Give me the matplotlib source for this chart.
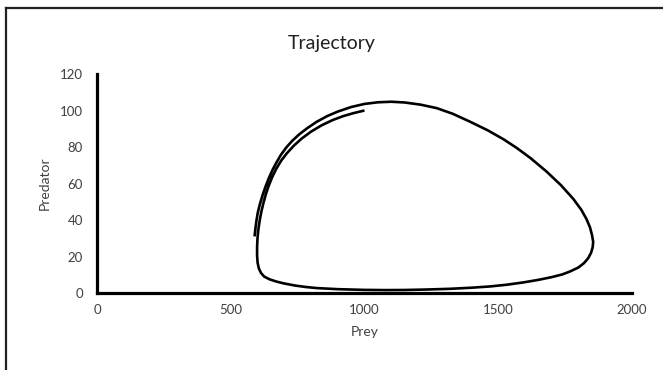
import matplotlib.pyplot as plt
from matplotlib.lines import Line2D

# trajectory (prey, predator), start at (1000, 100)
prey = [1000, 960, 920, 880, 840, 800, 765, 735, 710, 688, 670, 655, 642,
        631, 622, 614, 608, 603, 600, 598.5, 598.5, 600.5, 605, 613, 625,
        645, 670, 697, 740, 780, 821, 900, 1000, 1080, 1150, 1230, 1320,
        1400, 1470, 1530, 1594, 1650, 1700, 1740, 1770, 1800, 1820, 1836,
        1847, 1853, 1855, 1851, 1843, 1830, 1811, 1781, 1735, 1681, 1620,
        1569, 1519, 1460, 1394, 1330, 1270, 1210, 1150, 1100, 1050, 1000,
        950, 900, 860, 820, 785, 755, 730, 708, 688, 672, 656, 642, 630,
        619, 609, 601, 596, 592, 589]
predator = [100, 98.6, 96.9, 94.7, 91.9, 88.4, 84.6, 80.6, 76.6, 72.4, 68,
            63.5, 58.8, 54, 49.2, 44.3, 39.5, 34.5, 30, 25, 20.5, 16.5, 13.5,
            11, 9, 7.5, 6.3, 5.3, 4.1, 3.3, 2.7, 2.1, 1.7, 1.6, 1.65, 1.9,
            2.3, 2.9, 3.6, 4.5, 5.8, 7.2, 8.7, 10.2, 11.9, 14, 16.3, 19,
            22, 25, 28, 31.5, 36, 40.5, 45.5, 51.5, 59, 66.5, 74,
            79.5, 84.3, 89.2, 93.9, 98.2, 101.3, 103.2, 104.4, 104.8, 104.5,
            103.6, 101.9, 99.4, 96.9, 93.7, 90.2, 86.8, 83.4, 79.8, 75.8,
            71.8, 67.4, 62.8, 58.3, 53.6, 48.7, 44, 39.5, 35, 31]

xticks = [0, 500, 1000, 1500, 2000]
yticks = [0, 20, 40, 60, 80, 100, 120]

plt.rcParams['font.family'] = ['Lato', 'DejaVu Sans']

fig = plt.figure(figsize=(6.63, 3.70), dpi=100)
ax = fig.add_axes([0.1463, 0.2081, 0.8069, 0.5919])

ax.plot(prey, predator, color='black', linewidth=1.9,
        solid_capstyle='butt', solid_joinstyle='round')

ax.set_xlim(0, 2000)
ax.set_ylim(0, 120)
ax.set_xticks(xticks)
ax.set_yticks(yticks)
ax.tick_params(length=0, labelsize=9.5, colors='#404040', pad=8)
ax.tick_params(axis='y', pad=10)
for side in ['top', 'right']:
    ax.spines[side].set_visible(False)
for side in ['left', 'bottom']:
    ax.spines[side].set_linewidth(2.3)
    ax.spines[side].set_color('black')
    ax.spines[side].set_capstyle('projecting')

ax.set_xlabel('Prey', fontsize=10, color='#404040', labelpad=7)
ax.set_ylabel('Predator', fontsize=10, color='#404040', labelpad=7)
fig.text(0.5, 0.883, 'Trajectory', ha='center', va='center',
         fontsize=14, color='#202020')

# outer chart border (only left and top visible)
fig.add_artist(Line2D([0.0095, 0.0095], [0.0, 0.9785], color='#222222',
                      linewidth=1.6, transform=fig.transFigure))
fig.add_artist(Line2D([0.0095, 1.0], [0.9785, 0.9785], color='#222222',
                      linewidth=1.6, transform=fig.transFigure))

fig.savefig('out.png', dpi=100)
